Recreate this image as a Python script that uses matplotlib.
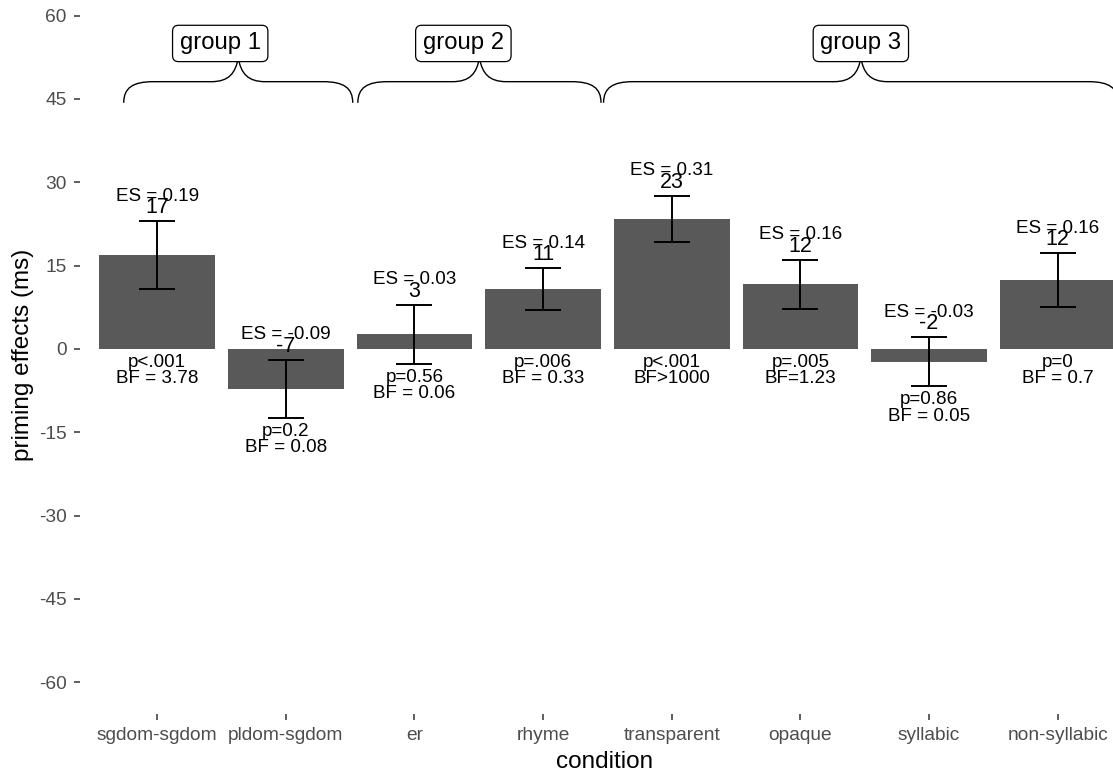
import numpy as np
import matplotlib
matplotlib.use('Agg')
import matplotlib.pyplot as plt
from matplotlib.path import Path
from matplotlib.patches import PathPatch

plt.rcParams['font.family'] = ['Liberation Sans', 'DejaVu Sans']

# priming effects per condition (ms), with +/- error
conditions = ['sgdom-sgdom', 'pldom-sgdom', 'er', 'rhyme', 'transparent',
			  'opaque', 'syllabic', 'non-syllabic']
effects = [16.9, -7.2, 2.6, 10.8, 23.4, 11.6, -2.3, 12.4]
errors = [6.1, 5.2, 5.3, 3.75, 4.2, 4.45, 4.4, 4.8]

es_labels = ['ES = 0.19', 'ES = -0.09', 'ES = 0.03', 'ES = 0.14',
			 'ES = 0.31', 'ES = 0.16', 'ES = -0.03', 'ES = 0.16']
p_labels = ['p<.001', 'p=0.2', 'p=0.56', 'p=.006', 'p<.001', 'p=.005',
			'p=0.86', 'p=0']
bf_labels = ['BF = 3.78', 'BF = 0.08', 'BF = 0.06', 'BF = 0.33', 'BF>1000',
			 'BF=1.23', 'BF = 0.05', 'BF = 0.7']

group_names = ['group 1', 'group 2', 'group 3']
group_spans = [(0.74, 2.52), (2.56, 4.45), (4.47, 8.47)]
group_label_x = [1.49, 3.38, 6.47]

y_ticks = [60, 45, 30, 15, 0, -15, -30, -45, -60]

BAR_COL = '#595959'
TICK_COL = '#4D4D4D'
_dpi_ = 100


def brace(ax, x0, x1, y_end=44.3, y_mid=48.1, y_tip=52.4, a=0.23, b=0.21):
	# curly brace opening downwards, tip at the middle
	xm = (x0 + x1) / 2.0
	h1 = y_end + 0.7 * (y_mid - y_end)
	h2 = y_mid + 0.35 * (y_tip - y_mid)
	verts = [(x0, y_end),
			 (x0, h1), (x0 + 0.3 * a, y_mid), (x0 + a, y_mid),
			 (xm - b, y_mid),
			 (xm - 0.35 * b, y_mid), (xm - 0.1 * b, h2), (xm, y_tip),
			 (xm + 0.1 * b, h2), (xm + 0.35 * b, y_mid), (xm + b, y_mid),
			 (x1 - a, y_mid),
			 (x1 - 0.3 * a, y_mid), (x1, h1), (x1, y_end)]
	codes = [Path.MOVETO] + [Path.CURVE4] * 3 + [Path.LINETO] + \
			[Path.CURVE4] * 6 + [Path.LINETO] + [Path.CURVE4] * 3
	ax.add_patch(PathPatch(Path(verts, codes), facecolor='none',
						   edgecolor='black', lw=1.0))
	return


fig = plt.figure(figsize=(11.13, 7.74), dpi=_dpi_)
ax = fig.add_axes([80 / 1113, 60 / 774, 1033 / 1113, 714 / 774])

x = np.arange(1, len(conditions) + 1)
ax.bar(x, effects, width=0.9, color=BAR_COL, zorder=1)
ax.errorbar(x, effects, yerr=errors, fmt='none', ecolor='black',
			elinewidth=1.4, capsize=13.3, capthick=1.4, zorder=2)

upper = np.array(effects) + np.array(errors)
lower = np.array(effects) - np.array(errors)

for i in range(len(x)):
	ax.text(x[i], upper[i] + 1.45, '%d' % round(effects[i]), ha='center',
			va='baseline', fontsize=15.5, zorder=3)
	ax.text(x[i], upper[i] + 3.7, es_labels[i], ha='center', va='baseline',
			fontsize=13.6, zorder=3)
	base = min(0, lower[i])
	ax.text(x[i], base - 3.2, p_labels[i], ha='center', va='baseline',
			fontsize=13.6, zorder=3)
	ax.text(x[i], base - 6.2, bf_labels[i], ha='center', va='baseline',
			fontsize=13.6, zorder=3)

# group braces and boxed labels
for name, span, lx in zip(group_names, group_spans, group_label_x):
	brace(ax, span[0], span[1])
	ax.text(lx, 53.9, name, ha='center', va='baseline', fontsize=17.2,
			bbox=dict(boxstyle='round,pad=0.3,rounding_size=0.25',
					  fc='white', ec='black', lw=0.9))

ax.set_xlim(0.4, 8.43)
ax.set_ylim(-65.7, 62.8)
ax.set_xticks(x)
ax.set_xticklabels(conditions)
ax.set_yticks(y_ticks)
ax.set_yticklabels([str(t) for t in y_ticks])
for s in ax.spines.values():
	s.set_visible(False)
ax.tick_params(axis='both', length=4.5, width=1.1, color='#333333',
			   labelcolor=TICK_COL, labelsize=13.8)
ax.tick_params(axis='y', pad=5)
ax.tick_params(axis='x', pad=4.5)

fig.text(605 / 1113, 1 - 768 / 774, 'condition', ha='center', va='baseline',
		 fontsize=17.5)
fig.text(23 / 1113, 1 - 355 / 774, 'priming effects (ms)', ha='center',
		 va='center', rotation=90, fontsize=17.5)

plt.savefig('out.png', dpi=_dpi_)
